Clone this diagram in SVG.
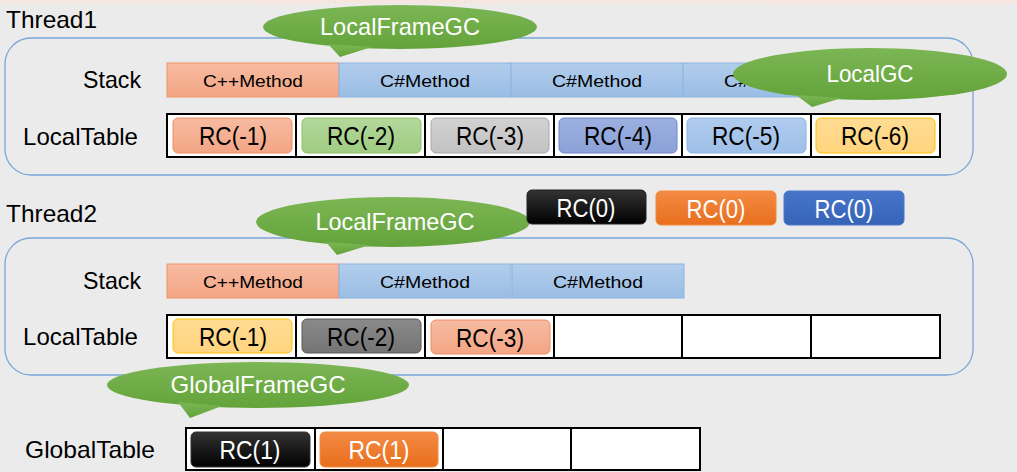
<svg xmlns="http://www.w3.org/2000/svg" width="1017" height="472" viewBox="0 0 1017 472">
<defs>
<linearGradient id="topg" x1="0" y1="0" x2="0" y2="1"><stop offset="0" stop-color="#f8e4dc"/><stop offset="1" stop-color="#ebebeb"/></linearGradient>
<linearGradient id="salm" x1="0" y1="0" x2="0" y2="1"><stop offset="0" stop-color="#f7bba2"/><stop offset="1" stop-color="#f3a584"/></linearGradient>
<linearGradient id="blu" x1="0" y1="0" x2="0" y2="1"><stop offset="0" stop-color="#b2cdec"/><stop offset="1" stop-color="#9abde5"/></linearGradient>
<linearGradient id="grn" x1="0" y1="0" x2="0" y2="1"><stop offset="0" stop-color="#b3d89c"/><stop offset="1" stop-color="#9fcc82"/></linearGradient>
<linearGradient id="gry" x1="0" y1="0" x2="0" y2="1"><stop offset="0" stop-color="#d2d2d2"/><stop offset="1" stop-color="#c2c2c2"/></linearGradient>
<linearGradient id="peri" x1="0" y1="0" x2="0" y2="1"><stop offset="0" stop-color="#9cb0e0"/><stop offset="1" stop-color="#8ba2d8"/></linearGradient>
<linearGradient id="lblu" x1="0" y1="0" x2="0" y2="1"><stop offset="0" stop-color="#b0cbee"/><stop offset="1" stop-color="#9fc0e9"/></linearGradient>
<linearGradient id="yel" x1="0" y1="0" x2="0" y2="1"><stop offset="0" stop-color="#ffdc94"/><stop offset="1" stop-color="#ffd47d"/></linearGradient>
<linearGradient id="dgry" x1="0" y1="0" x2="0" y2="1"><stop offset="0" stop-color="#8a8a8a"/><stop offset="1" stop-color="#747474"/></linearGradient>
<linearGradient id="blk" x1="0" y1="0" x2="0" y2="1"><stop offset="0" stop-color="#333333"/><stop offset="1" stop-color="#000000"/></linearGradient>
<linearGradient id="org" x1="0" y1="0" x2="0" y2="1"><stop offset="0" stop-color="#f48b45"/><stop offset="1" stop-color="#e86e1c"/></linearGradient>
<linearGradient id="dblu" x1="0" y1="0" x2="0" y2="1"><stop offset="0" stop-color="#4675c9"/><stop offset="1" stop-color="#3563b8"/></linearGradient>
<linearGradient id="bub" x1="0" y1="0" x2="0" y2="1"><stop offset="0" stop-color="#7cb655"/><stop offset="1" stop-color="#63a33a"/></linearGradient>
</defs>
<style>
text{font-family:"Liberation Sans",Arial,sans-serif;}
.lbl{font-size:24px;fill:#000;}
.lr{font-size:24px;fill:#000;text-anchor:end;}
.meth{font-size:17px;fill:#000;text-anchor:middle;}
.rc{font-size:26px;fill:#000;text-anchor:middle;}
.rcw{font-size:26px;fill:#fff;text-anchor:middle;}
.bt{font-size:24px;fill:#fff;text-anchor:middle;}
.cont{fill:none;stroke:#7aa7d9;stroke-width:1.3;}
.sc{fill:url(#salm);stroke:#f09468;stroke-width:1;}
.bc{fill:url(#blu);stroke:#8db4e2;stroke-width:1;}
.tbl{fill:#fff;stroke:#000;stroke-width:2;}
.div{stroke:#000;stroke-width:2;}
.bub{fill:url(#bub);}
</style>
<rect x="0" y="0" width="1017" height="472" fill="#ebebeb"/>
<rect x="0" y="0" width="1017" height="6" fill="url(#topg)"/>

<g id="thread1">
<text class="lbl" x="6" y="28" textLength="91" lengthAdjust="spacingAndGlyphs">Thread1</text>
<rect class="cont" x="5" y="38" width="968" height="137" rx="26"/>
<text class="lr" x="141" y="88" textLength="58" lengthAdjust="spacingAndGlyphs">Stack</text>
<text class="lr" x="138" y="145" textLength="115" lengthAdjust="spacingAndGlyphs">LocalTable</text>
</g>
<g id="t1-stack">
<rect class="sc" x="167" y="63" width="172" height="34"/>
<rect class="bc" x="339" y="63" width="172" height="34"/>
<rect class="bc" x="511" y="63" width="172" height="34"/>
<rect class="bc" x="683" y="63" width="172" height="34"/>
<text class="meth" x="253" y="87" textLength="100" lengthAdjust="spacingAndGlyphs">C++Method</text>
<text class="meth" x="425" y="87" textLength="90" lengthAdjust="spacingAndGlyphs">C#Method</text>
<text class="meth" x="597" y="87" textLength="90" lengthAdjust="spacingAndGlyphs">C#Method</text>
<text class="meth" x="769" y="87" textLength="90" lengthAdjust="spacingAndGlyphs">C#Method</text>
</g>
<g id="t1-table">
<rect class="tbl" x="167" y="114" width="773" height="43"/>
<line class="div" x1="296" y1="114" x2="296" y2="157"/>
<line class="div" x1="425" y1="114" x2="425" y2="157"/>
<line class="div" x1="554" y1="114" x2="554" y2="157"/>
<line class="div" x1="682" y1="114" x2="682" y2="157"/>
<line class="div" x1="811" y1="114" x2="811" y2="157"/>
<rect x="173" y="118" width="119" height="35" rx="5" fill="url(#salm)" stroke="#ef8c63"/>
<rect x="302" y="118" width="119" height="35" rx="5" fill="url(#grn)" stroke="#8cc168"/>
<rect x="431" y="118" width="118" height="35" rx="5" fill="url(#gry)" stroke="#a9a9a9"/>
<rect x="559" y="118" width="118" height="35" rx="5" fill="url(#peri)" stroke="#6f87c6"/>
<rect x="687" y="118" width="119" height="35" rx="5" fill="url(#lblu)" stroke="#8db3e2"/>
<rect x="816" y="118" width="119" height="35" rx="5" fill="url(#yel)" stroke="#ffc000"/>
<text class="rc" x="233" y="145" textLength="68" lengthAdjust="spacingAndGlyphs">RC(-1)</text>
<text class="rc" x="361" y="145" textLength="68" lengthAdjust="spacingAndGlyphs">RC(-2)</text>
<text class="rc" x="490" y="145" textLength="68" lengthAdjust="spacingAndGlyphs">RC(-3)</text>
<text class="rc" x="618" y="145" textLength="68" lengthAdjust="spacingAndGlyphs">RC(-4)</text>
<text class="rc" x="746" y="145" textLength="68" lengthAdjust="spacingAndGlyphs">RC(-5)</text>
<text class="rc" x="875" y="145" textLength="68" lengthAdjust="spacingAndGlyphs">RC(-6)</text>
</g>
<g id="t1-localframegc">
<ellipse class="bub" cx="400" cy="27" rx="137" ry="22"/>
<path class="bub" d="M328,44 L340,57 L372,47 Z"/>
<text class="bt" x="400" y="35" textLength="160" lengthAdjust="spacingAndGlyphs">LocalFrameGC</text>
</g>
<g id="t1-localgc">
<ellipse class="bub" cx="870" cy="74" rx="137" ry="26"/>
<path class="bub" d="M796,95 L812,107 L842,98 Z"/>
<text class="bt" x="870" y="82" textLength="87" lengthAdjust="spacingAndGlyphs">LocalGC</text>
</g>

<g id="thread2">
<text class="lbl" x="6" y="222" textLength="91" lengthAdjust="spacingAndGlyphs">Thread2</text>
<rect class="cont" x="5" y="238" width="968" height="137" rx="26"/>
<text class="lr" x="141" y="289" textLength="58" lengthAdjust="spacingAndGlyphs">Stack</text>
<text class="lr" x="138" y="345" textLength="115" lengthAdjust="spacingAndGlyphs">LocalTable</text>
</g>
<g id="t2-stack">
<rect class="sc" x="167" y="264" width="172" height="34"/>
<rect class="bc" x="339" y="264" width="172" height="34"/>
<rect class="bc" x="512" y="264" width="172" height="34"/>
<text class="meth" x="253" y="288" textLength="100" lengthAdjust="spacingAndGlyphs">C++Method</text>
<text class="meth" x="425" y="288" textLength="90" lengthAdjust="spacingAndGlyphs">C#Method</text>
<text class="meth" x="598" y="288" textLength="90" lengthAdjust="spacingAndGlyphs">C#Method</text>
</g>
<g id="t2-table">
<rect class="tbl" x="167" y="315" width="773" height="43"/>
<line class="div" x1="296" y1="315" x2="296" y2="358"/>
<line class="div" x1="425" y1="315" x2="425" y2="358"/>
<line class="div" x1="554" y1="315" x2="554" y2="358"/>
<line class="div" x1="682" y1="315" x2="682" y2="358"/>
<line class="div" x1="811" y1="315" x2="811" y2="358"/>
<rect x="173" y="319" width="119" height="34" rx="5" fill="url(#yel)" stroke="#ffc000"/>
<rect x="302" y="319" width="119" height="34" rx="5" fill="url(#dgry)" stroke="#595959"/>
<rect x="431" y="320" width="119" height="34" rx="5" fill="url(#salm)" stroke="#ef8c63"/>
<text class="rc" x="233" y="346" textLength="68" lengthAdjust="spacingAndGlyphs">RC(-1)</text>
<text class="rc" x="361" y="346" textLength="68" lengthAdjust="spacingAndGlyphs">RC(-2)</text>
<text class="rc" x="490" y="347" textLength="68" lengthAdjust="spacingAndGlyphs">RC(-3)</text>
</g>
<g id="t2-localframegc">
<ellipse class="bub" cx="393" cy="222" rx="137" ry="25"/>
<path class="bub" d="M326,242 L337,255 L370,245 Z"/>
<text class="bt" x="395" y="230" textLength="159" lengthAdjust="spacingAndGlyphs">LocalFrameGC</text>
</g>
<g id="rc0-black">
<rect x="527" y="190" width="119" height="34" rx="5" fill="url(#blk)" stroke="#222"/>
<text class="rcw" x="586" y="217" textLength="59" lengthAdjust="spacingAndGlyphs">RC(0)</text>
</g>
<g id="rc0-orange">
<rect x="656" y="191" width="120" height="34" rx="5" fill="url(#org)" stroke="#f08a3a"/>
<text class="rcw" x="716" y="218" textLength="59" lengthAdjust="spacingAndGlyphs">RC(0)</text>
</g>
<g id="rc0-blue">
<rect x="784" y="191" width="120" height="34" rx="5" fill="url(#dblu)" stroke="#4a78c8"/>
<text class="rcw" x="844" y="218" textLength="59" lengthAdjust="spacingAndGlyphs">RC(0)</text>
</g>

<g id="global">
<text class="lbl" x="25" y="458" textLength="130" lengthAdjust="spacingAndGlyphs">GlobalTable</text>
<rect class="tbl" x="186" y="428" width="514" height="42"/>
<line class="div" x1="315" y1="428" x2="315" y2="470"/>
<line class="div" x1="443" y1="428" x2="443" y2="470"/>
<line class="div" x1="571" y1="428" x2="571" y2="470"/>
<rect x="191" y="432" width="119" height="35" rx="5" fill="url(#blk)" stroke="#333"/>
<rect x="320" y="432" width="118" height="35" rx="5" fill="url(#org)" stroke="#f08a3a"/>
<text class="rcw" x="250" y="459" textLength="61" lengthAdjust="spacingAndGlyphs">RC(1)</text>
<text class="rcw" x="379" y="459" textLength="61" lengthAdjust="spacingAndGlyphs">RC(1)</text>
</g>
<g id="globalframegc">
<ellipse class="bub" cx="258" cy="385" rx="151" ry="23"/>
<path class="bub" d="M178,402 L190,418 L222,406 Z"/>
<text class="bt" x="258" y="393" textLength="175" lengthAdjust="spacingAndGlyphs">GlobalFrameGC</text>
</g>
<g id="connectors"></g>
</svg>
